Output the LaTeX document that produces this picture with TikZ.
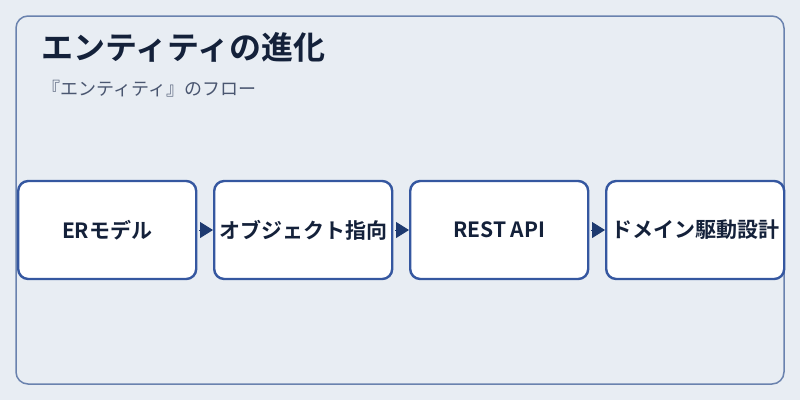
\documentclass[tikz,border=0pt]{standalone}
\usepackage{fontspec}
\setmainfont{Noto Sans CJK JP}
\newfontfamily\jpbold{Noto Sans CJK JP Bold}
\usetikzlibrary{arrows.meta}
\definecolor{bgc}{HTML}{E8EDF3}
\definecolor{framec}{HTML}{6A82AE}
\definecolor{boxc}{HTML}{3557A0}
\definecolor{arrc}{HTML}{1E3A70}
\definecolor{titlec}{HTML}{14213A}
\definecolor{subc}{HTML}{4A5670}
\tikzset{
  stepbox/.style={draw=boxc, line width=2.4pt, fill=white, rounded corners=10pt,
    minimum width=178pt, minimum height=98pt, inner sep=0pt, anchor=west,
    font=\jpbold\fontsize{21}{24}\selectfont, text=titlec},
  flowarrow/.style={draw=arrc, line width=1pt, -{Triangle[length=13pt,width=16pt]}, arrc, shorten <=2pt},
}
\begin{document}
\begin{tikzpicture}[x=1pt,y=-1pt]
\useasboundingbox (0,0) rectangle (800,400);
\fill[bgc] (0,0) rectangle (800,400);
\draw[framec, line width=1.5pt, rounded corners=12pt] (16,16) rectangle (784,384);
\node[anchor=base west, inner sep=0pt, text=titlec, font=\jpbold\fontsize{32}{36}\selectfont] (title) at (41,59) {エンティティの進化};
\node[anchor=base west, inner sep=0pt, text=subc, font=\fontsize{18}{22}\selectfont] (sub) at (42,95) {『エンティティ』のフロー};
\node[stepbox] (b1) at (17,230) {ERモデル};
\node[stepbox] (b2) at (213,230) {オブジェクト指向};
\node[stepbox] (b3) at (409,230) {REST API};
\node[stepbox] (b4) at (605,230) {ドメイン駆動設計};
\draw[flowarrow] (b1.east) -- (b2.west);
\draw[flowarrow] (b2.east) -- (b3.west);
\draw[flowarrow] (b3.east) -- (b4.west);
\end{tikzpicture}
\end{document}
